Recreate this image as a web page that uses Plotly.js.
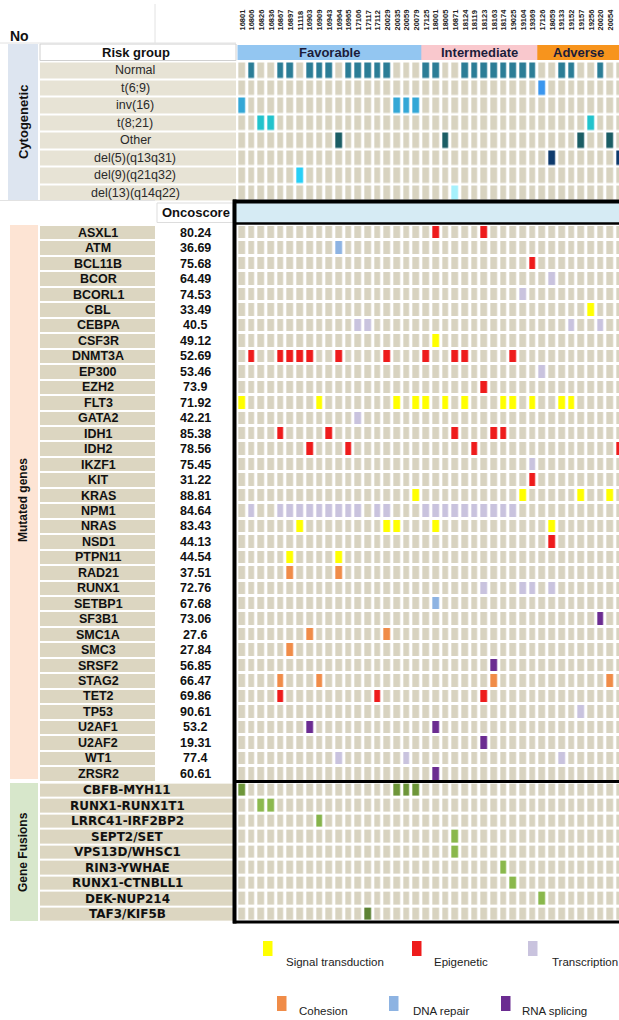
<!DOCTYPE html>
<html><head><meta charset="utf-8">
<script src="https://cdn.plot.ly/plotly-3.0.1.min.js"></script>
<style>html,body{margin:0;padding:0;background:#fff;overflow:hidden}#chart{width:619px;height:1020px}</style>
</head><body><div id="chart"></div><script>
// ---------------- DATA ----------------
const sampleIds = ['16801','16806','16826','16836','16867','16897','11118','16903','16909','16943',
  '16964','16965','17106','17117','17112','20029','20035','20059','20079','17125',
  '18001','18005','16871','18124','18119','18123','18163','18174','19025','19104',
  '19369','17126','18059','19133','19152','19157','19256','20020','20054','19906'];
const riskGroups = ['Favorable','Intermediate','Adverse'];
const riskCounts = [19, 12, 9];

const cytoLabels = ['Normal','t(6;9)','inv(16)','t(8;21)','Other','del(5)(q13q31)','del(9)(q21q32)','del(13)(q14q22)'];
const cytoHits = [
  [1,4,5,7,8,9,11,12,13,14,15,19,20,23,24,25,26,27,28,29,30,33,34,37],
  [31],
  [0,16,17,18],
  [2,3,36],
  [10,21,35,38],
  [32,39],
  [6],
  [22]
];

const geneLabels = ['ASXL1','ATM','BCL11B','BCOR','BCORL1','CBL','CEBPA','CSF3R','DNMT3A','EP300',
  'EZH2','FLT3','GATA2','IDH1','IDH2','IKZF1','KIT','KRAS','NPM1','NRAS','NSD1','PTPN11','RAD21',
  'RUNX1','SETBP1','SF3B1','SMC1A','SMC3','SRSF2','STAG2','TET2','TP53','U2AF1','U2AF2','WT1','ZRSR2'];
const oncoScores = ['80.24','36.69','75.68','64.49','74.53','33.49','40.5','49.12','52.69','53.46',
  '73.9','71.92','42.21','85.38','78.56','75.45','31.22','88.81','84.64','83.43','44.13','44.54','37.51',
  '72.76','67.68','73.06','27.6','27.84','56.85','66.47','69.86','90.61','53.2','19.31','77.4','60.61'];
const classNames = ['Signal transduction','Epigenetic','Transcription','Cohesion','DNA repair','RNA splicing'];
// index into classNames for each gene
const geneClass = [1,4,1,2,2,0,2,0,1,2,1,0,2,1,1,2,1,0,2,0,1,0,3,2,4,5,3,3,5,3,1,2,5,5,2,5];
const geneHits = [
  [20,25],[10],[30],[32],[29],[36],[12,13,34,37],[20],
  [1,4,5,6,7,10,15,19,22,23,28],[31],[25],
  [0,8,16,18,19,21,23,27,28,30,33,34],[12],[4,9,22,26,27],[7,11,24,39],[30],[30],[18,29,35,38],
  [1,4,5,6,7,8,9,10,11,12,14,15,19,20,21,22,23,24,25,26,27,28],
  [6,15,16,20,32],[32],[5,10],[5,10],[25,29,30,32],[20],[37],[7,15],[5],[26],[4,8,26,38],
  [4,14,25],[35],[7,20],[25],[10,17,33],[20]
];
const fusionLabels = ['CBFB-MYH11','RUNX1-RUNX1T1','LRRC41-IRF2BP2','SEPT2/SET','VPS13D/WHSC1',
  'RIN3-YWHAE','RUNX1-CTNBLL1','DEK-NUP214','TAF3/KIF5B'];
const fusionHits = [[0,16,17,18],[2,3],[8],[22],[22],[27],[28],[31],[13]];

// ---------------- STYLE ----------------
const W = 619, H = 1020;
const fx = p => p / W, fy = p => 1 - p / H;
const CELL = '#d8d3c0';
const riskColors = ['#93c6f1','#f9c8cd','#f7941d'];
const cytoColors = ['#2b7d96','#3a96ee','#33a7d6','#22c3cc','#1b5d64','#0e3a6c','#27cff6','#a6f1fc'];
const classColors = ['#ffff00','#ee1c1c','#c9c3de','#f08c48','#8db3e2','#6b2c91'];
const fusionColors = ['#6e963a','#8cb94e','#86b34a','#8ab84c','#8ab84c','#8ab84c','#8ab84c','#8ab84c','#5d8233'];
const FONT = 'Liberation Sans, Arial, sans-serif';
const TXT = '#111';

function discrete(colors){
  const n = colors.length, s = [];
  colors.forEach((c,k)=>{ s.push([k/n,c]); s.push([(k+1)/n,c]); });
  return {colorscale:s, zmin:-0.5, zmax:n-0.5};
}
const cols = sampleIds.map((_,i)=>i);
const XMAX = -0.5 + 382/9.7;

// risk group row
const riskCodes = [];
riskCounts.forEach((c,g)=>{ for(let k=0;k<c;k++) riskCodes.push(g); });

const traces = [];
traces.push(Object.assign({type:'heatmap', x:cols, y:[0], z:[riskCodes], xaxis:'x', yaxis:'y',
  xgap:0, ygap:3, showscale:false, hoverinfo:'skip'}, discrete(riskColors)));

// cytogenetic grid
const cytoZ = cytoLabels.map((_,r)=>cols.map(c=> cytoHits[r].includes(c) ? r+1 : 0));
traces.push(Object.assign({type:'heatmap', x:cols, y:cytoLabels.map((_,r)=>r+1), z:cytoZ, xaxis:'x', yaxis:'y',
  xgap:3.2, ygap:2.5, showscale:false, hoverinfo:'skip'}, discrete([CELL].concat(cytoColors))));

// genes grid
const geneZ = geneLabels.map((_,r)=>cols.map(c=> geneHits[r].includes(c) ? geneClass[r]+1 : 0));
traces.push(Object.assign({type:'heatmap', x:cols, y:geneLabels.map((_,r)=>r), z:geneZ, xaxis:'x', yaxis:'y2',
  xgap:3.2, ygap:3, showscale:false, hoverinfo:'skip'}, discrete([CELL].concat(classColors))));

// fusions grid
const fusZ = fusionLabels.map((_,r)=>cols.map(c=> fusionHits[r].includes(c) ? r+1 : 0));
traces.push(Object.assign({type:'heatmap', x:cols, y:fusionLabels.map((_,r)=>r), z:fusZ, xaxis:'x', yaxis:'y3',
  xgap:3.2, ygap:3, showscale:false, hoverinfo:'skip'}, discrete([CELL].concat(fusionColors))));

// label backgrounds
function labelBg(n, xa, ya, color, yoff, gap){
  return {type:'heatmap', x:[0], y:Array.from({length:n},(_,i)=>i+yoff), z:Array.from({length:n},()=>[1]),
    xaxis:xa, yaxis:ya, colorscale:[[0,color],[1,color]], zmin:0, zmax:1, showscale:false,
    xgap:0, ygap:gap, hoverinfo:'skip'};
}
traces.push(labelBg(cytoLabels.length,'x2','y','#e7e3d5',1,2));
traces.push(labelBg(geneLabels.length,'x3','y2','#dcd6c1',0,2));
traces.push(labelBg(fusionLabels.length,'x4','y3','#dcd6c1',0,2));

// ---------------- LAYOUT ----------------
const hidden = {visible:false, fixedrange:true};
const layout = {
  width:W, height:H, margin:{l:0,r:0,t:0,b:0},
  paper_bgcolor:'#fff', plot_bgcolor:'rgba(0,0,0,0)', showlegend:false,
  font:{family:FONT, color:TXT},
  xaxis:{domain:[fx(237.3),1], range:[-0.5,XMAX], anchor:'y', side:'top',
    tickmode:'array', tickvals:cols, ticktext:sampleIds, tickangle:-90,
    ticks:'outside', ticklen:11, tickcolor:'rgba(0,0,0,0)',
    tickfont:{size:7.5, color:'#222', family:FONT, weight:'bold'},
    showgrid:false, zeroline:false, showline:false, fixedrange:true},
  yaxis:{domain:[fy(201.5),fy(44)], range:[8.5,-0.5], anchor:'x', showgrid:false, zeroline:false,
    showticklabels:false, ticks:'', fixedrange:true},
  yaxis2:{domain:[fy(781.5),fy(225)], range:[35.5,-0.5], anchor:'x', showgrid:false, zeroline:false,
    showticklabels:false, ticks:'', fixedrange:true},
  yaxis3:{domain:[fy(922),fy(782.6)], range:[8.5,-0.5], anchor:'x', showgrid:false, zeroline:false,
    showticklabels:false, ticks:'', fixedrange:true},
  xaxis2:Object.assign({domain:[fx(40),fx(236)], range:[-0.5,0.5], anchor:'y'}, hidden),
  xaxis3:Object.assign({domain:[fx(40),fx(155)], range:[-0.5,0.5], anchor:'y2'}, hidden),
  xaxis4:Object.assign({domain:[fx(40),fx(233)], range:[-0.5,0.5], anchor:'y3'}, hidden),
  shapes:[], annotations:[]
};
const S = layout.shapes, A = layout.annotations;
function rect(x0,y0,x1,y1,fill,line,layer){
  S.push({type:'rect', xref:'paper', yref:'paper', x0:fx(x0), x1:fx(x1), y0:fy(y1), y1:fy(y0),
    fillcolor:fill, line:line||{width:0}, layer:layer||'below'});
}
function hline(x0,x1,y,w,c){ S.push({type:'line', xref:'paper', yref:'paper', x0:fx(x0), x1:fx(x1), y0:fy(y), y1:fy(y), line:{color:c,width:w}, layer:'above'}); }
function vline(x,y0,y1,w,c){ S.push({type:'line', xref:'paper', yref:'paper', x0:fx(x), x1:fx(x), y0:fy(y0), y1:fy(y1), line:{color:c,width:w}, layer:'above'}); }
function txt(x,y,t,o){
  A.push(Object.assign({xref:'paper', yref:'paper', x:fx(x), y:fy(y), text:t, showarrow:false,
    xanchor:'center', yanchor:'middle', font:{family:FONT, size:12, color:TXT}}, o||{}));
}

// faint guide lines
vline(155,4,43,1,'#e2e2e2');
hline(0,236,43,1,'#e2e2e2');
hline(0,155,200.5,1,'#e2e2e2');

// side panels
rect(8,44,38,200,'#dde5f0');
rect(10,225,38,779,'#fde4d4');
rect(10,783,38,921,'#d7e7cb');
txt(23,122,'Cytogenetic',{textangle:-90, font:{family:FONT,size:13,color:TXT,weight:'bold'}});
txt(23,500,'Mutated genes',{textangle:-90, font:{family:FONT,size:12,color:TXT,weight:'bold'}});
txt(23,852,'Gene Fusions',{textangle:-90, font:{family:FONT,size:12,color:TXT,weight:'bold'}});

// header
txt(8,36,'No',{xanchor:'left', font:{family:FONT,size:14,color:TXT,weight:'bold'}});
rect(40,44,236,60.5,'#ffffff',{color:'#d0d0d0',width:1});
txt(136,52.5,'Risk group',{font:{family:FONT,size:13,color:TXT,weight:'bold'}});

// risk group names
let start = 0;
riskGroups.forEach((g,i)=>{
  const a = start-0.5, b = Math.min(start+riskCounts[i]-0.5, XMAX);
  A.push({xref:'x', yref:'y', x:(a+b)/2, y:0, text:g, showarrow:false, xanchor:'center',
    font:{family:FONT,size:13,color:'#1c1c3a',weight:'bold'}});
  start += riskCounts[i];
});

// cytogenetic labels
cytoLabels.forEach((l,r)=>A.push({xref:'paper', yref:'y', x:fx(135), y:r+1, text:l, showarrow:false,
  xanchor:'center', font:{family:FONT,size:12.5,color:'#2a2a2a'}}));

// oncoscore row
rect(157,203,233,222.5,'#ffffff',{color:'#dddddd',width:1});
rect(236,203,619,223,'#d6ebf4');
txt(196,212.5,'Oncoscore',{font:{family:FONT,size:13,color:TXT,weight:'bold'}});

// gene labels and scores
geneLabels.forEach((l,r)=>{
  A.push({xref:'paper', yref:'y2', x:fx(98), y:r, text:l, showarrow:false, xanchor:'center',
    font:{family:FONT,size:12.5,color:TXT,weight:'bold'}});
  A.push({xref:'paper', yref:'y2', x:fx(195), y:r, text:oncoScores[r], showarrow:false, xanchor:'center',
    font:{family:FONT,size:12.5,color:TXT,weight:'bold'}});
});
// fusion labels
fusionLabels.forEach((l,r)=>A.push({xref:'paper', yref:'y3', x:fx(127), y:r, text:l, showarrow:false,
  xanchor:'center', font:{family:'DejaVu Sans, sans-serif',size:12,color:TXT,weight:'bold'}}));

// black frame
vline(234.5,199.5,923.5,4,'#000');
hline(233,619,201.5,4,'#000');
hline(233,619,223.5,2.5,'#000');
hline(233,619,781.5,3,'#000');
hline(233,619,922,3,'#000');

// legend
const legPos = [[263,941,284,962],[412,941,432,962],[528,941,550,962],[277,996,297,1011],[389,996,411,1011],[501,996,520,1011]];
classNames.forEach((n,i)=>{
  const p = legPos[i];
  rect(p[0],p[1],p[0]+9.5,p[1]+15,classColors[i],{width:0},'above');
  txt(p[2],p[3],n,{xanchor:'left', font:{family:FONT,size:11.5,color:'#222'}});
});

Plotly.newPlot('chart', traces, layout, {displayModeBar:false, staticPlot:true});
</script></body></html>
